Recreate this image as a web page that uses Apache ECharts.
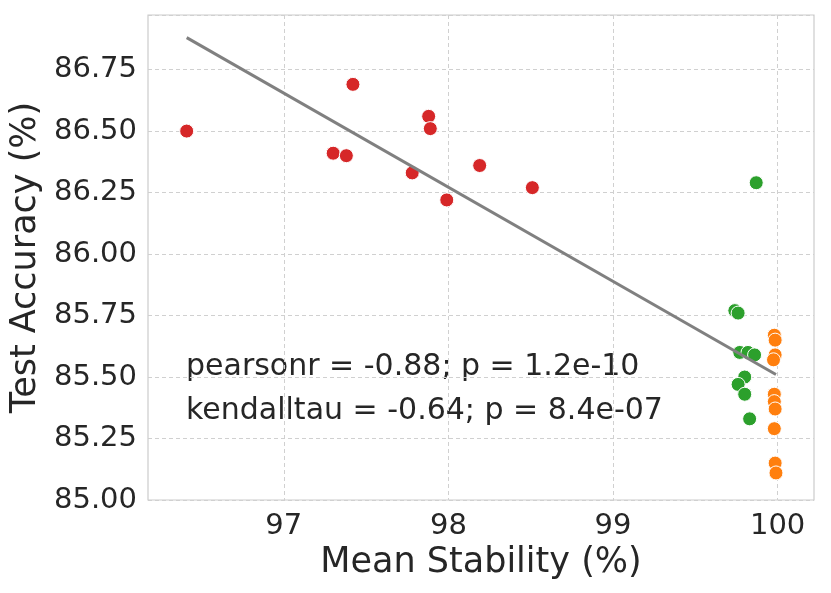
<!DOCTYPE html>
<html>
<head>
<meta charset="utf-8">
<script src="https://cdn.jsdelivr.net/npm/echarts@6/dist/echarts.min.js"></script>
<style>
  html, body { margin: 0; padding: 0; background: #fff; }
  #chart { width: 831px; height: 593px; }
</style>
</head>
<body>
<div id="chart"></div>
<script>
// [mean stability, test accuracy]
const redPoints = [
  [96.41, 86.50], [97.42, 86.69], [97.30, 86.41], [97.38, 86.40],
  [97.88, 86.56], [97.89, 86.51], [97.78, 86.33], [97.99, 86.22],
  [98.19, 86.36], [98.51, 86.27]
];
const greenPoints = [
  [99.87, 86.29], [99.74, 85.77], [99.76, 85.76], [99.77, 85.60],
  [99.82, 85.60], [99.86, 85.59], [99.80, 85.50], [99.76, 85.47],
  [99.80, 85.43], [99.83, 85.33]
];
const orangePoints = [
  [99.98, 85.67], [99.985, 85.65], [99.985, 85.59], [99.975, 85.57],
  [99.98, 85.43], [99.98, 85.40], [99.985, 85.37], [99.98, 85.29],
  [99.985, 85.15], [99.99, 85.11]
];
const fitLine = [[96.41, 86.88], [99.99, 85.51]];
const xTicks = [97, 98, 99, 100];
const statLines = ['pearsonr = -0.88; p = 1.2e-10', 'kendalltau = -0.64; p = 8.4e-07'];

const font = 'DejaVu Sans';
const dark = '#262626';

const myChart = echarts.init(document.getElementById('chart'));

function dots(name, color, data) {
  return {
    name: name,
    type: 'scatter',
    data: data,
    symbolSize: 14,
    itemStyle: { color: color, opacity: 1, borderColor: '#fff', borderWidth: 1 },
    z: 3
  };
}

const option = {
  animation: false,
  backgroundColor: '#fff',
  grid: {
    left: 148, right: 17, top: 15, bottom: 93,
    show: true, borderColor: '#cccccc', borderWidth: 1.2
  },
  xAxis: {
    type: 'value',
    min: 96.175,
    max: 100.221,
    name: 'Mean Stability (%)',
    nameLocation: 'middle',
    nameGap: 42,
    nameTextStyle: { fontFamily: font, fontSize: 35, color: dark },
    axisLine: { show: false },
    axisTick: { show: false, customValues: xTicks },
    axisLabel: {
      customValues: xTicks,
      fontFamily: font, fontSize: 29, color: dark, margin: 12
    },
    splitLine: { show: true, lineStyle: { color: '#d0d0d0', type: [4, 3], width: 1 } }
  },
  yAxis: {
    type: 'value',
    min: 85,
    max: 86.972,
    interval: 0.25,
    name: 'Test Accuracy (%)',
    nameLocation: 'middle',
    nameGap: 102,
    nameTextStyle: { fontFamily: font, fontSize: 35, color: dark },
    axisLine: { show: false },
    axisTick: { show: false },
    axisLabel: {
      showMaxLabel: false,
      formatter: v => v.toFixed(2),
      fontFamily: font, fontSize: 29, color: dark, margin: 11
    },
    splitLine: { show: true, lineStyle: { color: '#d0d0d0', type: [4, 3], width: 1 } }
  },
  graphic: statLines.map((t, i) => ({
    type: 'text',
    left: 186,
    top: 352 + i * 44,
    style: { text: t, fontFamily: font, fontSize: 30, fill: dark }
  })),
  series: [
    dots('red', '#d62728', redPoints),
    dots('green', '#2ca02c', greenPoints),
    dots('orange', '#ff7f0e', orangePoints),
    {
      type: 'line',
      data: fitLine,
      symbol: 'none',
      lineStyle: { color: '#808080', width: 3 },
      z: 4
    }
  ]
};
myChart.setOption(option);
</script>
</body>
</html>
